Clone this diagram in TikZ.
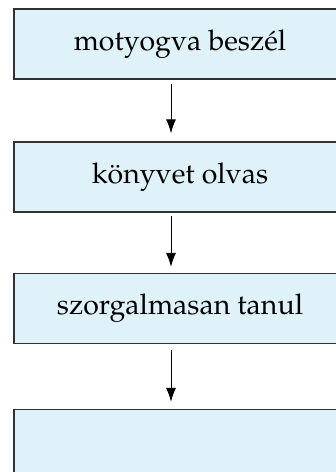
\documentclass[tikz,border=0pt]{standalone}
\usepackage[T1]{fontenc}
\usepackage{mathpazo}
\usetikzlibrary{arrows.meta}
\definecolor{boxfill}{RGB}{223,242,250}
\definecolor{boxline}{RGB}{50,50,50}
\tikzset{
  flowbox/.style={draw=boxline, line width=1.3pt, fill=boxfill, minimum width=332pt, minimum height=70pt, inner sep=0pt, font=\fontsize{28.5}{32}\selectfont},
  flowarrow/.style={line width=1pt, -{Latex[length=14pt,width=10pt]}}
}
\begin{document}
\begin{tikzpicture}[x=1pt,y=-1pt]
\useasboundingbox (0,0) rectangle (336,472);
\clip (0,0) rectangle (336,472);
\node[flowbox] (b1) at (180,44) {motyogva beszél};
\node[flowbox] (b2) at (180,177) {könyvet olvas};
\node[flowbox] (b3) at (180,308.5) {szorgalmasan tanul};
\node[flowbox] (b4) at (180,444.5) {};
\draw[flowarrow] ([xshift=-9pt,yshift=-4pt]b1.south) -- ([xshift=-9pt,yshift=8pt]b2.north);
\draw[flowarrow] ([xshift=-9pt,yshift=-3pt]b2.south) -- ([xshift=-9pt,yshift=6pt]b3.north);
\draw[flowarrow] ([xshift=-9pt,yshift=-6pt]b3.south) -- ([xshift=-9pt,yshift=7pt]b4.north);
\end{tikzpicture}
\end{document}
